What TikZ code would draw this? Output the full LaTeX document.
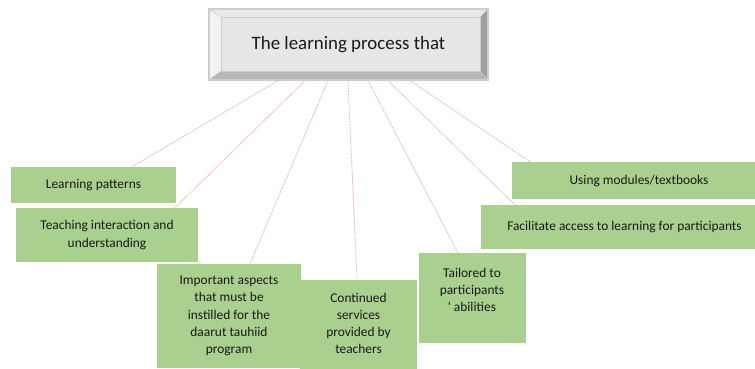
\documentclass[tikz,border=0pt]{standalone}
\usepackage{fontspec}
\newfontfamily\carl{Carlito}
\definecolor{gboxfill}{HTML}{A9D08E}
\definecolor{linkpink}{HTML}{EBAEB0}
\definecolor{bevtop}{HTML}{E9E9E9}
\definecolor{bevleft}{HTML}{F3F3F3}
\definecolor{bevright}{HTML}{9E9E9E}
\definecolor{bevbot}{HTML}{B7B7B7}
\definecolor{bevface}{HTML}{E6E6E6}
\definecolor{bevline}{HTML}{CDCDCD}
\tikzset{
  gbox/.style={fill=gboxfill, draw=none, inner sep=0pt, align=center,
    font=\carl\fontsize{13.4pt}{17.3pt}\selectfont, text=black!90},
  gtext/.style={inner sep=0pt, align=center,
    font=\carl\fontsize{13.4pt}{17.3pt}\selectfont, text=black!90},
  link/.style={draw=linkpink, line width=0.8pt, dash pattern=on 0.8pt off 0.7pt}
}
\begin{document}
\begin{tikzpicture}[x=1pt,y=-1pt]
\useasboundingbox (0,0) rectangle (755,369);
\fill[white] (0,0) rectangle (755,369);
% bevelled title box
\fill[bevtop] (209,9) -- (488,9) -- (480,17) -- (221,17) -- cycle;
\fill[bevleft] (209,9) -- (221,17) -- (221,71) -- (209,80) -- cycle;
\fill[bevright] (488,9) -- (488,80) -- (480,71) -- (480,17) -- cycle;
\fill[bevbot] (209,80) -- (488,80) -- (480,71) -- (221,71) -- cycle;
\fill[bevface] (221,17) rectangle (480,71);
\draw[bevline, line width=0.6pt] (221,17) rectangle (480,71);
\draw[bevline, line width=0.6pt] (209,9) -- (221,17) (488,9) -- (480,17) (209,80) -- (221,71) (488,80) -- (480,71);
\node[draw=bevline, line width=1.2pt, minimum width=279pt, minimum height=71pt, inner sep=0pt,
  font=\carl\fontsize{18.9pt}{22pt}\selectfont, text=black!90] (top) at (348.5,44.5) {\raisebox{1.5pt}{The learning process that}};
% green boxes
\node[gbox, minimum width=165pt, minimum height=36pt] (lp) at (93.5,185) {Learning patterns};
\node[gbox, minimum width=182pt, minimum height=54pt] (ti) at (107,235) {Teaching interaction and\\understanding};
\node[gbox, minimum width=144pt, minimum height=104pt] (ia) at (229,316) {Important aspects\\that must be\\instilled for the\\daarut tauhiid\\program};
\node[gbox, minimum width=117pt, minimum height=89pt] (cs) at (358.5,324.5) {\raisebox{2pt}{\begin{tabular}{@{}c@{}}Continued\\services\\provided by\\teachers\end{tabular}}};
\node[gbox, minimum width=107pt, minimum height=90pt] (ta) at (472.5,298) {};
\node[gtext] (tatext) at (472,290) {Tailored to\\participants\\' abilities};
\node[gbox, minimum width=243pt, minimum height=37pt] (um) at (633.5,180.5) {\hspace{11pt}Using modules/textbooks};
\node[gbox, minimum width=274pt, minimum height=44pt] (fa) at (618,227) {\hspace{13pt}Facilitate access to learning for participants};
% connectors
\draw[link] ([xshift=-70.5pt]top.south) -- ([xshift=38.5pt]lp.north);
\draw[link] ([xshift=-43.5pt]top.south) -- ([xshift=68pt]ti.north);
\draw[link] ([xshift=-20.5pt]top.south) -- ([xshift=21pt]ia.north);
\draw[link] ([xshift=-0.5pt]top.south) -- ([xshift=-1.5pt]cs.north);
\draw[link] ([xshift=19.5pt]top.south) -- ([xshift=-14.5pt]ta.north);
\draw[link] ([xshift=39.5pt]top.south) -- ([xshift=-103pt]fa.north);
\draw[link] ([xshift=61.5pt]top.south) -- ([xshift=-103.5pt]um.north);
\end{tikzpicture}
\end{document}
